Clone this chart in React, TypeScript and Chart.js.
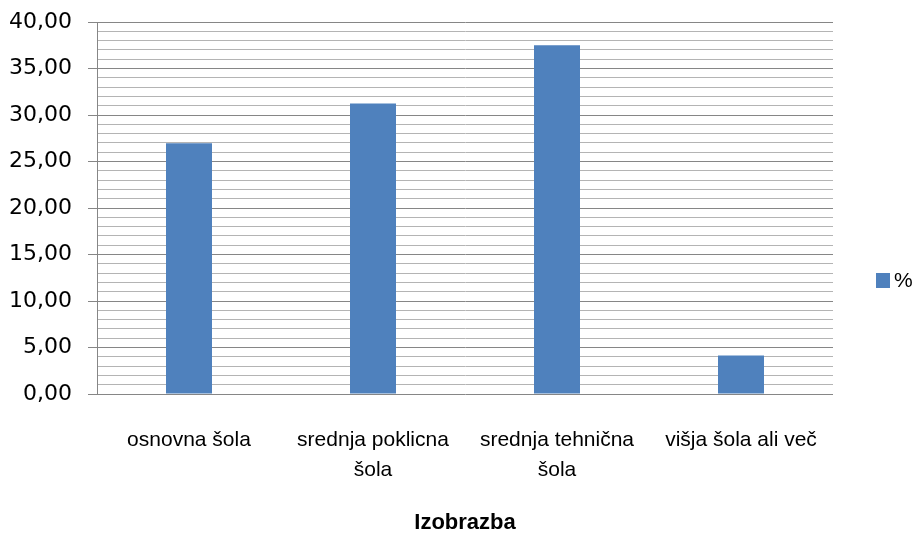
import React, { useEffect, useRef } from "react";
import { Chart, registerables } from "chart.js";

Chart.register(...registerables);

const categories: (string | string[])[] = [
  "osnovna šola",
  ["srednja poklicna", "šola"],
  ["srednja tehnična", "šola"],
  "višja šola ali več",
];
const seriesLabel = "%";
const values = [26.95, 31.25, 37.5, 4.15];
const yMin = 0;
const yMax = 40;
const yMajorStep = 5;
const yMinorStep = 1;
const axisTitle = "Izobrazba";

const BAR_COLOR = "#4F81BD";
const MAJOR_GRID = "#868686";
const MINOR_GRID = "#b4b4b4";

const legendPlugin = {
  id: "sideLegend",
  afterDraw(chart: any) {
    const { ctx, chartArea } = chart;
    const ds = chart.data.datasets[0];
    const cy = (chartArea.top + chartArea.bottom) / 2 + 73;
    const x = chart.width - 42;
    ctx.save();
    ctx.fillStyle = ds.backgroundColor;
    ctx.fillRect(x, cy - 8, 14, 15);
    ctx.fillStyle = "#000";
    ctx.font = "21px 'Liberation Sans'";
    ctx.textBaseline = "middle";
    ctx.textAlign = "left";
    ctx.fillText(ds.label, x + 18, cy);
    ctx.restore();
  },
};

export default function App() {
  const ref = useRef<HTMLCanvasElement | null>(null);
  useEffect(() => {
    if (!ref.current) return;
    const chart = new Chart(ref.current, {
      type: "bar",
      data: {
        labels: categories,
        datasets: [
          {
            label: seriesLabel,
            data: values,
            backgroundColor: BAR_COLOR,
            borderWidth: 0,
            barPercentage: 0.25,
            categoryPercentage: 1,
          },
        ],
      },
      plugins: [legendPlugin],
      options: {
        animation: false,
        responsive: true,
        maintainAspectRatio: false,
        layout: { padding: { top: 22, right: 85, left: 0, bottom: 0 } },
        plugins: {
          legend: { display: false },
          tooltip: { enabled: false },
        },
        scales: {
          x: {
            grid: { display: false, drawTicks: false },
            border: { display: false },
            ticks: {
              maxRotation: 0,
              minRotation: 0,
              autoSkip: false,
              padding: 31,
              color: "#000",
              font: { family: "'Liberation Sans'", size: 21, lineHeight: 1.45 },
            },
            title: {
              display: true,
              text: axisTitle,
              color: "#000",
              font: { family: "'Liberation Sans'", size: 22, weight: "bold" },
              padding: { top: 0, bottom: -3 },
            },
            afterFit: (scale: any) => {
              scale.height = 139;
              scale.paddingLeft = 0;
              scale.paddingRight = 0;
            },
          },
          y: {
            min: yMin,
            max: yMax,
            border: { display: true, color: MAJOR_GRID, width: 1 },
            grid: {
              color: (c: any) =>
                c.tick && c.tick.value % yMajorStep === 0 ? MAJOR_GRID : MINOR_GRID,
              tickColor: (c: any) =>
                c.tick && c.tick.value % yMajorStep === 0 ? MAJOR_GRID : "rgba(0,0,0,0)",
              tickLength: 9,
              lineWidth: 1,
            },
            ticks: {
              stepSize: yMinorStep,
              autoSkip: false,
              padding: 16,
              color: "#000",
              font: { family: "'DejaVu Sans'", size: 22 },
              callback: (v: any) =>
                Number(v) % yMajorStep === 0 ? Number(v).toFixed(2).replace(".", ",") : "",
            },
            afterFit: (scale: any) => {
              scale.width = 97;
              scale.paddingTop = 0;
              scale.paddingBottom = 0;
            },
          },
        },
      },
    });
    return () => chart.destroy();
  }, []);
  return (
    <div style={{ position: "absolute", left: 0, top: 0, width: 918, height: 533, background: "#fff" }}>
      <canvas ref={ref} />
    </div>
  );
}
